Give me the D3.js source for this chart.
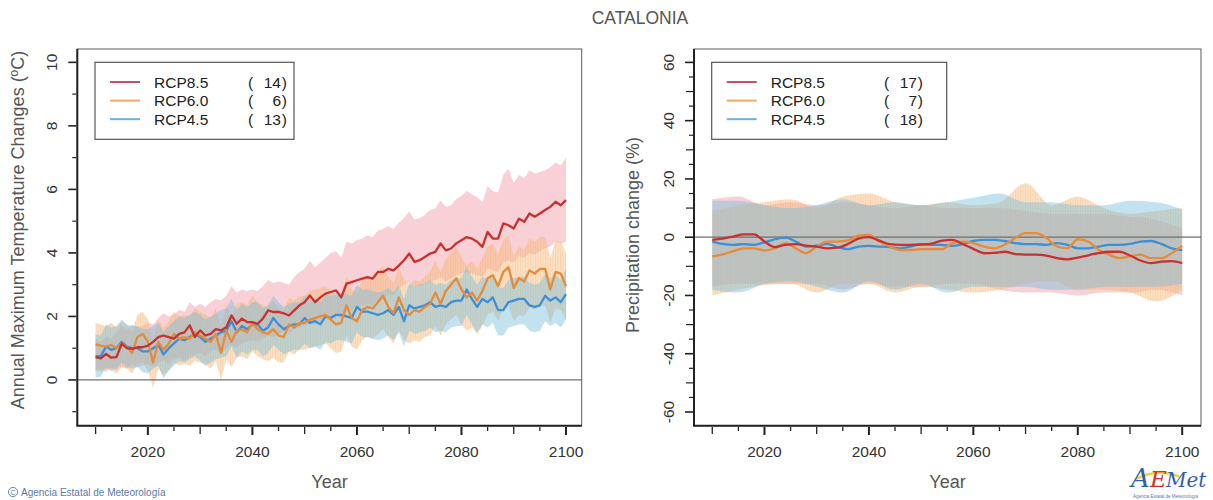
<!DOCTYPE html>
<html>
<head>
<meta charset="utf-8">
<script src="https://cdn.jsdelivr.net/npm/d3@7"></script>
<style>
  body { margin: 0; background: #fff; }
  svg { font-family: "Liberation Sans", Arial, sans-serif; }
</style>
</head>
<body>
<svg id="chart" width="1213" height="500"></svg>
<script>
// ---- data: left panel, annual maximum temperature change (ºC), 2010-2100 ----
const years = d3.range(2010, 2101);

const tRcp85 = [0.72,0.68,0.82,0.70,0.72,1.14,1.00,0.98,1.03,1.03,
  1.08,1.20,1.35,1.40,1.35,1.30,1.45,1.50,1.72,1.35,
  1.56,1.40,1.45,1.60,1.56,1.66,2.03,1.77,1.93,1.82,
  1.82,1.77,1.93,2.19,2.14,2.14,2.10,2.03,2.19,2.35,
  2.45,2.66,2.45,2.60,2.72,2.77,2.82,2.60,3.03,3.08,
  3.14,3.19,3.24,3.19,3.40,3.40,3.50,3.45,3.60,3.77,
  3.98,3.72,3.77,3.87,3.98,4.03,4.30,4.08,4.14,4.30,
  4.40,4.50,4.45,4.35,4.19,4.66,4.45,4.45,4.93,4.87,
  4.77,5.08,4.98,5.24,5.14,5.24,5.35,5.45,5.61,5.50,
  5.66];
const tRcp85Low = [0.30,0.35,0.25,0.40,0.30,0.45,0.35,0.50,0.40,0.45,
  0.50,0.40,0.55,0.60,0.50,0.65,0.70,0.60,0.75,0.80,
  0.85,0.75,0.90,0.95,0.85,1.00,1.10,1.00,1.15,1.20,
  1.25,1.20,1.30,1.40,1.35,1.45,1.50,1.45,1.60,1.65,
  1.70,1.80,1.75,1.85,1.95,1.90,2.00,1.95,2.15,2.20,
  2.30,2.35,2.40,2.35,2.55,2.60,2.70,2.65,2.90,3.00,
  3.05,2.95,2.95,3.05,3.10,3.15,3.25,3.10,3.20,3.30,
  3.35,3.40,3.35,3.30,3.25,3.50,3.45,3.40,3.70,3.75,
  3.70,3.90,3.85,4.00,3.95,4.05,4.15,4.20,4.35,4.30,
  4.35];
const tRcp85High = [1.30,1.20,1.40,1.30,1.50,1.70,1.60,1.75,1.65,1.70,
  1.80,1.75,1.95,2.10,2.00,2.05,2.20,2.15,2.45,2.30,
  2.40,2.30,2.45,2.55,2.50,2.65,2.95,2.75,2.85,2.80,
  2.85,2.80,2.95,3.15,3.05,3.10,3.05,3.00,3.25,3.40,
  3.50,3.75,3.55,3.70,3.85,4.00,4.05,3.85,4.35,4.30,
  4.40,4.45,4.55,4.50,4.70,4.75,4.85,4.75,4.95,5.10,
  5.30,5.05,5.10,5.20,5.35,5.40,5.65,5.45,5.50,5.70,
  5.80,5.95,5.85,5.75,5.60,6.10,5.95,5.90,6.45,6.65,
  6.20,6.45,6.35,6.60,6.50,6.55,6.60,6.70,6.85,6.75,
  7.00];

const tRcp60 = [1.12,1.08,1.05,1.10,1.00,1.15,1.05,0.85,1.35,1.45,
  1.20,0.55,1.20,0.95,1.15,1.45,1.30,1.35,1.30,1.50,
  1.40,1.30,1.20,1.45,0.85,1.55,1.20,1.55,1.60,1.50,
  1.80,1.60,1.50,1.45,1.60,1.40,1.35,1.75,1.65,1.80,
  1.80,1.90,1.95,2.00,2.05,1.90,1.75,1.80,2.35,1.95,
  1.85,2.20,2.30,2.25,2.45,2.65,2.30,2.10,2.60,2.20,
  2.05,2.20,2.15,2.30,2.40,2.75,2.40,2.80,3.00,3.20,
  2.85,2.60,2.75,2.50,2.80,3.20,3.30,2.95,3.40,3.55,
  2.90,3.20,3.10,3.45,3.35,3.50,3.50,2.85,3.40,3.35,
  2.95];
const tRcp60Low = [0.30,0.25,0.35,0.30,0.20,0.40,0.35,0.20,0.50,0.55,
  0.30,-0.25,0.35,0.15,0.30,0.55,0.45,0.50,0.45,0.60,
  0.55,0.50,0.35,0.60,0.00,0.65,0.40,0.70,0.75,0.65,
  0.90,0.75,0.65,0.60,0.70,0.55,0.55,0.90,0.80,0.95,
  0.95,1.00,1.05,1.10,1.15,1.00,0.85,0.90,1.40,1.05,
  0.95,1.25,1.35,1.30,1.45,1.60,1.35,1.15,1.55,1.25,
  1.15,1.25,1.20,1.35,1.40,1.70,1.40,1.75,1.90,2.05,
  1.75,1.55,1.65,1.45,1.70,2.05,2.15,1.85,2.25,2.35,
  1.85,2.05,2.00,2.30,2.20,2.35,2.35,1.80,2.25,2.20,
  1.90];
const tRcp60High = [1.80,1.75,1.70,1.80,1.65,1.85,1.75,1.50,2.05,2.15,
  1.90,1.25,1.90,1.65,1.85,2.15,2.00,2.05,2.00,2.25,
  2.15,2.05,1.95,2.25,1.70,2.40,2.00,2.40,2.45,2.35,
  2.65,2.45,2.35,2.30,2.50,2.25,2.20,2.60,2.50,2.65,
  2.65,2.80,2.85,2.90,2.95,2.80,2.65,2.70,3.25,2.85,
  2.75,3.15,3.25,3.20,3.40,3.60,3.25,3.05,3.55,3.15,
  3.00,3.15,3.10,3.25,3.40,3.75,3.40,3.80,4.00,4.20,
  3.85,3.60,3.75,3.50,3.85,4.20,4.30,3.95,4.40,4.55,
  3.90,4.20,4.10,4.45,4.35,4.50,4.50,3.85,4.40,4.35,
  4.00];

const tRcp45 = [0.75,0.75,1.05,0.95,1.00,1.20,1.05,1.00,1.00,0.90,
  0.90,1.00,1.10,0.80,1.00,1.15,1.30,1.25,1.35,1.45,
  1.35,1.20,1.30,1.40,1.50,1.55,1.85,1.50,1.70,1.60,
  1.75,1.75,1.55,1.65,1.95,1.75,1.60,1.70,1.75,1.75,
  1.95,1.80,1.85,1.75,2.00,1.95,2.05,2.05,2.00,1.95,
  2.30,2.15,2.15,2.10,2.05,2.10,2.20,2.05,2.30,1.85,
  2.35,2.25,2.30,2.35,2.45,2.30,2.35,2.30,2.45,2.50,
  2.50,2.85,2.55,2.30,2.55,2.45,2.60,2.20,2.20,2.45,
  2.50,2.55,2.55,2.35,2.30,2.35,2.65,2.50,2.60,2.45,
  2.70];
const tRcp45Low = [0.08,0.10,0.40,0.30,0.35,0.55,0.40,0.35,0.40,0.25,
  0.20,0.35,0.45,0.05,0.30,0.45,0.60,0.55,0.65,0.75,
  0.60,0.45,0.55,0.65,0.70,0.75,1.05,0.70,0.90,0.80,
  0.95,0.95,0.75,0.85,1.10,0.95,0.80,0.90,0.95,0.95,
  1.15,1.00,1.05,0.95,1.20,1.15,1.25,1.25,1.20,1.15,
  1.50,1.35,1.35,1.30,1.25,1.30,1.40,1.25,1.50,1.05,
  1.55,1.45,1.50,1.55,1.65,1.50,1.55,1.50,1.65,1.70,
  1.70,2.05,1.75,1.50,1.75,1.65,1.80,1.40,1.40,1.65,
  1.70,1.75,1.75,1.55,1.50,1.55,1.85,1.70,1.80,1.65,
  1.90];
const tRcp45High = [1.45,1.40,1.75,1.65,1.70,1.90,1.75,1.70,1.70,1.60,
  1.60,1.70,1.80,1.50,1.70,1.85,2.00,1.95,2.05,2.15,
  2.05,1.90,2.00,2.10,2.20,2.25,2.55,2.20,2.40,2.30,
  2.45,2.45,2.25,2.35,2.65,2.45,2.30,2.40,2.45,2.45,
  2.65,2.50,2.55,2.45,2.70,2.65,2.75,2.75,2.70,2.65,
  3.00,2.85,2.85,2.80,2.75,2.80,2.90,2.75,3.00,2.55,
  3.05,2.95,3.00,3.05,3.15,3.00,3.05,3.00,3.15,3.20,
  3.20,3.55,3.25,3.00,3.25,3.15,3.30,2.90,2.90,3.15,
  3.20,3.25,3.25,3.05,3.00,3.05,3.35,3.20,3.30,3.15,
  3.50];

// ---- data: right panel, precipitation change (%) ----
const yearsP = d3.range(2010, 2101, 2);
const pRcp85 = [-0.9,-0.5,0.2,1.0,1.0,-1.5,-3.4,-2.6,-2.4,-2.9,
  -3.2,-3.8,-3.6,-2.3,-0.5,0.0,-1.2,-2.4,-2.6,-2.6,
  -2.5,-2.2,-1.2,-0.9,-2.4,-4.0,-5.5,-5.4,-5.0,-5.8,
  -6.0,-6.0,-6.3,-7.2,-7.6,-7.0,-6.2,-5.5,-5.0,-5.0,
  -6.3,-8.0,-8.9,-8.4,-8.2,-8.9];
const pRcp60 = [-6.6,-5.9,-4.8,-3.8,-3.8,-4.6,-3.8,-2.0,-3.8,-5.5,
  -3.2,-1.5,-1.5,-1.1,0.5,0.8,-1.5,-3.2,-4.4,-4.4,
  -4.1,-4.1,-4.1,-2.0,-1.5,-2.0,-3.2,-3.8,-2.6,-0.3,
  1.4,1.4,-0.3,-3.2,-3.8,-0.7,-1.5,-4.4,-6.0,-7.2,
  -6.6,-6.0,-7.2,-7.2,-5.5,-3.0];
const pRcp45 = [-1.5,-2.3,-2.6,-2.4,-2.6,-1.8,-0.7,-0.1,-1.5,-3.2,
  -2.9,-2.3,-3.4,-4.1,-3.2,-3.0,-3.2,-3.4,-3.8,-3.2,
  -2.4,-2.6,-2.6,-3.0,-2.3,-1.3,-0.9,-0.9,-1.3,-2.0,
  -2.4,-2.4,-2.6,-2.0,-2.6,-3.8,-3.8,-3.2,-2.6,-2.6,
  -2.3,-1.5,-1.3,-2.3,-3.8,-4.4];

const yearsBand = d3.range(2010, 2101, 5);
const pRcp85Low  = [-17,-16,-16,-16,-16,-18,-16,-17,-17,-16,-16,-18,-19,-19,-20,-19,-19,-18,-20];
const pRcp85High = [13,14,11,12,11,12,11,10,11,10,10,10,9,8,8,8,7,6,3];
const pRcp60Low  = [-20,-18,-16.5,-16,-19,-16,-16,-19,-17,-18,-19,-18,-16,-15,-18,-18,-19,-22,-18];
const pRcp60High = [9,11,12,13,10,14,15,12,11,12,11,12,18.5,11,14,10,8,9,10];
const pRcp45Low  = [-18,-19,-16,-15,-17,-19,-15,-18,-16,-19,-17,-17,-17,-18,-18,-17,-17,-17,-16];
const pRcp45High = [12.5,12.5,11,10,11,13,11,12,11,12,13.5,15,12,12,11,11,12.5,12,9.5];

const scenarios = ["RCP8.5", "RCP6.0", "RCP4.5"];
const modelsT = [14, 6, 13];
const modelsP = [17, 7, 18];
const lineColors = ["#c8312f", "#e58b3a", "#3d8fd6"];
const legendColors = ["#c75060", "#eeaa66", "#66b2e0"];

const svg = d3.select("#chart");

// hatch pattern for the RCP6.0 spread
const defs = svg.append("defs");
const pat = defs.append("pattern").attr("id", "hatch").attr("patternUnits", "userSpaceOnUse")
  .attr("width", 2.5).attr("height", 6);
pat.append("rect").attr("width", 2.5).attr("height", 6).attr("fill", "rgba(248,190,130,0.48)");
pat.append("line").attr("x1", 0.5).attr("x2", 0.5).attr("y1", 0).attr("y2", 6)
  .attr("stroke", "rgba(225,150,80,0.22)").attr("stroke-width", 0.8);

svg.append("text").attr("x", 640).attr("y", 24).attr("text-anchor", "middle")
  .attr("font-size", 17.5).attr("fill", "#555").text("CATALONIA");

function drawPanel(o) {
  const x = d3.scaleLinear().domain([2006.5, o.xMax]).range([o.left, o.right]);
  const y = d3.scaleLinear().domain(o.yDomain).range([425.7, 49]);
  const g = svg.append("g");

  // spread bands
  const bandFills = ["rgba(240,150,165,0.45)", "url(#hatch)", "rgba(120,190,220,0.45)"];
  o.bands.forEach((b, i) => {
    const area = d3.area().x(d => x(d.yr)).y0(d => y(d.lo)).y1(d => y(d.hi)).curve(o.curve);
    const data = b.yrs.map((yr, k) => ({ yr, lo: b.lo[k], hi: b.hi[k] }));
    g.append("path").datum(data).attr("d", area).attr("fill", bandFills[i]);
  });

  // zero line
  g.append("line").attr("x1", o.left).attr("x2", o.right)
    .attr("y1", y(0)).attr("y2", y(0)).attr("stroke", "#6f6f6f").attr("stroke-width", 1.2);

  // mean lines (draw 4.5 first, 8.5 on top)
  [2, 1, 0].forEach(i => {
    const s = o.series[i];
    const line = d3.line().x((d, k) => x(s.yrs[k])).y(d => y(d)).curve(o.curve);
    g.append("path").datum(s.v).attr("d", line).attr("fill", "none")
      .attr("stroke", lineColors[i]).attr("stroke-width", 2.3).attr("stroke-linejoin", "round");
  });

  // frame
  g.append("rect").attr("x", o.left).attr("y", 49).attr("width", o.right - o.left).attr("height", 425.7 - 49)
    .attr("fill", "none").attr("stroke", "#5a5a5a").attr("stroke-width", 1);
  g.append("path").attr("d", `M${o.left},49V425.7H${o.right}`).attr("fill", "none")
    .attr("stroke", "#222").attr("stroke-width", 2);

  // x axis ticks and labels
  const xt = g.append("g").attr("transform", "translate(0,426)");
  d3.range(2010, 2101, 5).forEach(yr => {
    const major = yr % 20 === 0, mid = yr % 10 === 0;
    xt.append("line").attr("x1", x(yr)).attr("x2", x(yr)).attr("y1", 1)
      .attr("y2", major ? 9 : mid ? 8 : 5)
      .attr("stroke", "#222").attr("stroke-width", major ? 2 : 1.3);
  });
  xt.selectAll("text.xl").data(d3.range(2020, 2101, 20)).enter().append("text")
    .attr("x", d => x(d)).attr("y", 31).attr("text-anchor", "middle")
    .attr("font-size", 15.5).attr("fill", "#333").text(d => d);
  g.append("text").attr("x", (o.left + o.right) / 2).attr("y", 488).attr("text-anchor", "middle")
    .attr("font-size", 18).attr("fill", "#555").text("Year");

  // y axis ticks and labels
  o.yMinor.forEach(v => {
    const lab = o.yLabels.includes(v), mid = o.yMid.includes(v);
    g.append("line").attr("x1", o.left - (lab ? 9 : mid ? 8 : 5)).attr("x2", o.left - 1)
      .attr("y1", y(v)).attr("y2", y(v)).attr("stroke", "#222").attr("stroke-width", lab ? 1.6 : 1.2);
  });
  o.yLabels.forEach(v => {
    g.append("text").attr("transform", `translate(${o.left - 20},${y(v)}) rotate(-90)`)
      .attr("text-anchor", "middle").attr("font-size", 15.5).attr("fill", "#333").text(v);
  });
  g.append("text").attr("transform", `translate(${o.titleX},${o.titleY}) rotate(-90)`)
    .attr("text-anchor", "middle").attr("font-size", o.titleSize).attr("fill", "#555").text(o.title);

  // legend
  const lg = g.append("g");
  lg.append("rect").attr("x", o.lg.x).attr("y", 62.3).attr("width", o.lg.w).attr("height", 77)
    .attr("fill", "#fff").attr("stroke", "#555").attr("stroke-width", 1.2);
  scenarios.forEach((sc, i) => {
    const yy = 82 + i * 18.6;
    lg.append("line").attr("x1", o.lg.x + 15).attr("x2", o.lg.x + 45).attr("y1", yy).attr("y2", yy)
      .attr("stroke", legendColors[i]).attr("stroke-width", 2);
    lg.append("text").attr("x", o.lg.x + 59).attr("y", yy + 5.5).attr("font-size", 15.5).attr("fill", "#222").text(sc);
    lg.append("text").attr("x", o.lg.par).attr("y", yy + 5.5).attr("font-size", 15.5).attr("fill", "#222").text("(");
    lg.append("text").attr("x", o.lg.par + 33).attr("y", yy + 5.5).attr("text-anchor", "end")
      .attr("font-size", 15.5).attr("fill", "#222").text(o.counts[i]);
    lg.append("text").attr("x", o.lg.par + 39).attr("y", yy + 5.5).attr("text-anchor", "end")
      .attr("font-size", 15.5).attr("fill", "#222").text(")");
  });
}

drawPanel({
  left: 77.3, right: 581.7, xMax: 2103,
  yDomain: [-1.44, 10.42],
  curve: d3.curveLinear,
  bands: [
    { yrs: years, lo: tRcp85Low, hi: tRcp85High },
    { yrs: years, lo: tRcp60Low, hi: tRcp60High },
    { yrs: years, lo: tRcp45Low, hi: tRcp45High }
  ],
  series: [{ yrs: years, v: tRcp85 }, { yrs: years, v: tRcp60 }, { yrs: years, v: tRcp45 }],
  yMinor: d3.range(-1, 11, 1), yMid: [], yLabels: [0, 2, 4, 6, 8, 10],
  title: "Annual Maximum Temperature Changes (ºC)", titleX: 24, titleY: 230, titleSize: 18,
  lg: { x: 95, w: 199, par: 248 }, counts: modelsT
});

drawPanel({
  left: 694, right: 1201, xMax: 2103.6,
  yDomain: [-64.7, 64.6],
  curve: d3.curveMonotoneX,
  bands: [
    { yrs: yearsBand, lo: pRcp85Low, hi: pRcp85High },
    { yrs: yearsBand, lo: pRcp60Low, hi: pRcp60High },
    { yrs: yearsBand, lo: pRcp45Low, hi: pRcp45High }
  ],
  series: [{ yrs: yearsP, v: pRcp85 }, { yrs: yearsP, v: pRcp60 }, { yrs: yearsP, v: pRcp45 }],
  yMinor: d3.range(-60, 61, 5), yMid: d3.range(-60, 61, 10), yLabels: [-60, -40, -20, 0, 20, 40, 60],
  title: "Precipitation change (%)", titleX: 639, titleY: 235, titleSize: 18,
  lg: { x: 711.7, w: 235, par: 884 }, counts: modelsP
});

// footer credit
const credit = svg.append("g").attr("fill", "#5b79a8");
credit.append("circle").attr("cx", 13).attr("cy", 492).attr("r", 4.6).attr("fill", "none")
  .attr("stroke", "#5b79a8").attr("stroke-width", 0.9);
credit.append("text").attr("x", 13).attr("y", 495).attr("text-anchor", "middle").attr("font-size", 7).text("C");
credit.append("text").attr("x", 21).attr("y", 496).attr("font-size", 10).text("Agencia Estatal de Meteorología");

// AEMet logo
const logo = svg.append("g").attr("font-family", "'DejaVu Serif', serif").attr("font-style", "italic");
logo.append("path").attr("d", "M1136,479 C1150,472 1166,471 1180,477").attr("fill", "none")
  .attr("stroke", "#f2d23a").attr("stroke-width", 2.5);
logo.append("text").attr("x", 1131).attr("y", 487).attr("font-size", 26).attr("fill", "#2f5db3").text("A");
logo.append("text").attr("x", 1150).attr("y", 487).attr("font-size", 23).attr("fill", "#d8312c").text("E");
logo.append("text").attr("x", 1166).attr("y", 487).attr("font-size", 20).attr("fill", "#2f5db3").text("Met");
svg.append("text").attr("x", 1133).attr("y", 498).attr("font-size", 4.5).attr("fill", "#5b79a8")
  .text("Agencia Estatal de Meteorología");
</script>
</body>
</html>
